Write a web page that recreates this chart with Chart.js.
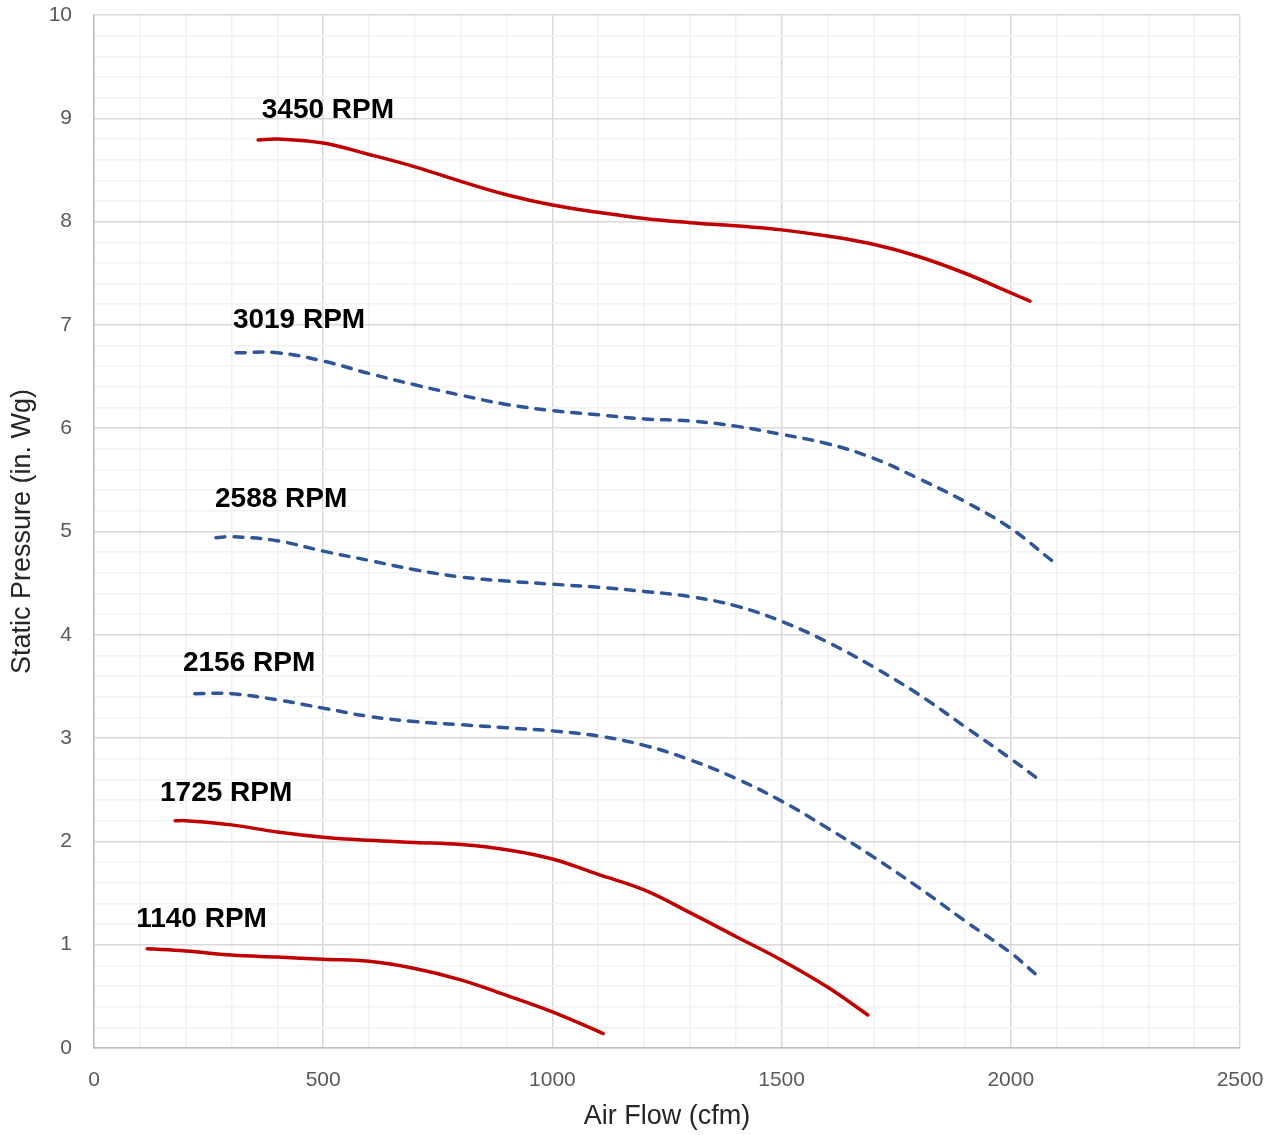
<!DOCTYPE html>
<html>
<head>
<meta charset="utf-8">
<script src="https://cdn.jsdelivr.net/npm/chart.js@4.4.1/dist/chart.umd.min.js"></script>
<style>
  html, body { margin: 0; padding: 0; background: #fff; }
  #wrap { width: 1278px; height: 1135px; }
</style>
</head>
<body>
<div id="wrap"><canvas id="grafica"></canvas></div>
<script>
// curvas del ventilador (cfm vs in. Wg)
var cfm3450 = [358, 400, 500, 600, 700, 800, 900, 1000, 1100, 1200, 1300, 1400, 1500, 1600, 1700, 1800, 1900, 2000, 2042];
var sp3450  = [8.79, 8.80, 8.76, 8.65, 8.53, 8.39, 8.26, 8.16, 8.09, 8.03, 7.99, 7.96, 7.92, 7.86, 7.78, 7.66, 7.50, 7.31, 7.23];

var cfm3019 = [310, 400, 500, 600, 700, 800, 900, 1000, 1100, 1200, 1300, 1400, 1500, 1600, 1700, 1800, 1900, 2000, 2089];
var sp3019  = [6.73, 6.73, 6.65, 6.53, 6.42, 6.32, 6.23, 6.17, 6.13, 6.09, 6.07, 6.02, 5.94, 5.85, 5.71, 5.51, 5.29, 5.03, 4.72];

var cfm2588 = [266, 300, 400, 500, 600, 700, 800, 900, 1000, 1100, 1200, 1300, 1400, 1500, 1600, 1700, 1800, 1900, 2000, 2064];
var sp2588  = [4.94, 4.95, 4.91, 4.81, 4.72, 4.63, 4.56, 4.52, 4.49, 4.46, 4.42, 4.37, 4.28, 4.13, 3.93, 3.69, 3.42, 3.11, 2.80, 2.59];

var cfm2156 = [220, 300, 400, 500, 600, 700, 800, 900, 1000, 1100, 1200, 1300, 1400, 1500, 1600, 1700, 1800, 1900, 2000, 2053];
var sp2156  = [3.43, 3.43, 3.37, 3.29, 3.21, 3.16, 3.13, 3.10, 3.07, 3.02, 2.93, 2.79, 2.61, 2.39, 2.13, 1.85, 1.55, 1.23, 0.92, 0.72];

var cfm1725 = [177, 200, 300, 400, 500, 600, 700, 800, 900, 1000, 1100, 1200, 1300, 1400, 1500, 1600, 1688];
var sp1725  = [2.20, 2.20, 2.16, 2.09, 2.04, 2.01, 1.99, 1.97, 1.92, 1.83, 1.68, 1.53, 1.31, 1.08, 0.85, 0.59, 0.32];

var cfm1140 = [116, 200, 300, 400, 500, 600, 700, 800, 900, 1000, 1111];
var sp1140  = [0.96, 0.94, 0.90, 0.88, 0.86, 0.84, 0.77, 0.66, 0.51, 0.35, 0.14];

// etiquetas de cada curva y donde van (en unidades de los ejes)
var etiquetas = ['3450 RPM', '3019 RPM', '2588 RPM', '2156 RPM', '1725 RPM', '1140 RPM'];
var etiquetaX = [366, 303, 264, 194, 144, 92];
var etiquetaY = [9.08, 7.04, 5.31, 3.72, 2.47, 1.25];

var ROJO = '#c00000';
var AZUL = '#2f5597';
var FUENTE = '"Liberation Sans", Arial, sans-serif';

function puntos(xs, ys) {
    return xs.map(function (x, i) { return { x: x, y: ys[i] }; });
}

function serie(nombre, xs, ys, color, discontinua) {
    return {
        label: nombre,
        data: puntos(xs, ys),
        showLine: true,
        borderColor: color,
        backgroundColor: color,
        borderWidth: 3.5,
        borderDash: discontinua ? [9, 9] : [],
        borderCapStyle: 'round',
        pointRadius: 0,
        tension: 0.4,
        fill: false
    };
}

// dibuja los textos "xxxx RPM" sobre las curvas
var pluginEtiquetas = {
    id: 'etiquetas',
    afterDatasetsDraw: function (chart) {
        var ctx = chart.ctx;
        var sx = chart.scales.x, sy = chart.scales.y;
        ctx.save();
        ctx.font = 'bold 28px ' + FUENTE;
        ctx.fillStyle = '#000';
        ctx.textAlign = 'left';
        ctx.textBaseline = 'middle';
        for (var i = 0; i < etiquetas.length; i++) {
            ctx.fillText(etiquetas[i], sx.getPixelForValue(etiquetaX[i]), sy.getPixelForValue(etiquetaY[i]));
        }
        ctx.restore();
    }
};

var esMultiplo = function (v, paso) {
    var r = v / paso;
    return Math.abs(r - Math.round(r)) < 1e-6;
};

var ctx = document.getElementById('grafica').getContext('2d');
var grafica = new Chart(ctx, {
    type: 'scatter',
    data: {
        datasets: [
            serie('3450 RPM', cfm3450, sp3450, ROJO, false),
            serie('3019 RPM', cfm3019, sp3019, AZUL, true),
            serie('2588 RPM', cfm2588, sp2588, AZUL, true),
            serie('2156 RPM', cfm2156, sp2156, AZUL, true),
            serie('1725 RPM', cfm1725, sp1725, ROJO, false),
            serie('1140 RPM', cfm1140, sp1140, ROJO, false)
        ]
    },
    options: {
        responsive: true,
        maintainAspectRatio: false,
        animation: false,
        layout: { padding: { left: 0, right: 38, top: 15, bottom: 0 } },
        plugins: {
            legend: { display: false },
            tooltip: { enabled: false }
        },
        scales: {
            x: {
                type: 'linear',
                min: 0,
                max: 2500,
                afterFit: function (s) { s.height = 87; s.paddingLeft = 0; s.paddingRight = 0; },
                border: { color: '#bfbfbf', width: 1.5 },
                grid: {
                    drawTicks: false,
                    lineWidth: 1.5,
                    color: function (c) { return esMultiplo(c.tick.value, 500) ? '#d9d9d9' : '#f2f2f2'; }
                },
                ticks: {
                    stepSize: 100,
                    autoSkip: false,
                    maxRotation: 0,
                    padding: 20,
                    color: '#595959',
                    font: { family: FUENTE, size: 21 },
                    callback: function (v) { return esMultiplo(v, 500) ? String(v) : ''; }
                },
                title: {
                    display: true,
                    text: 'Air Flow (cfm)',
                    color: '#262626',
                    font: { family: FUENTE, size: 27 },
                    padding: { top: 4, bottom: 2 }
                }
            },
            y: {
                type: 'linear',
                min: 0,
                max: 10,
                afterFit: function (s) { s.width = 94; s.paddingTop = 0; s.paddingBottom = 0; },
                border: { color: '#bfbfbf', width: 1.5 },
                grid: {
                    drawTicks: false,
                    lineWidth: 1.5,
                    color: function (c) { return esMultiplo(c.tick.value, 1) ? '#d9d9d9' : '#f2f2f2'; }
                },
                ticks: {
                    stepSize: 0.2,
                    autoSkip: false,
                    padding: 22,
                    color: '#595959',
                    font: { family: FUENTE, size: 21 },
                    callback: function (v) { return esMultiplo(v, 1) ? String(Math.round(v)) : ''; }
                },
                title: {
                    display: true,
                    text: 'Static Pressure (in. Wg)',
                    color: '#262626',
                    font: { family: FUENTE, size: 27 },
                    padding: { top: 6, bottom: 0 }
                }
            }
        }
    },
    plugins: [pluginEtiquetas]
});
</script>
</body>
</html>
